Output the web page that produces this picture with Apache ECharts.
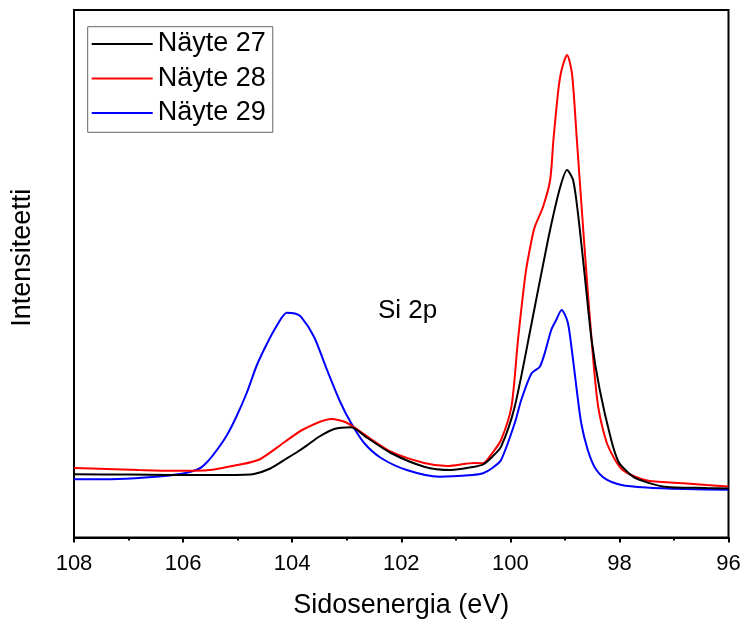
<!DOCTYPE html>
<html>
<head>
<meta charset="utf-8">
<script src="https://cdn.jsdelivr.net/npm/echarts@6/dist/echarts.min.js"></script>
<style>
html,body{margin:0;padding:0;background:#fff;}
#chart{width:743px;height:620px;}
</style>
</head>
<body>
<div id="chart"></div>
<script>
// Binding energy (eV) and intensity (arbitrary units) for each sample
const seriesNames = ["Näyte 27", "Näyte 28", "Näyte 29"];
const xTicks = [108, 106, 104, 102, 100, 98, 96];

const energy27 = [108, 107, 106.2, 105.4, 104.9, 104.7, 104.4, 104.1, 103.88, 103.72, 103.5, 103.23, 102.92, 102.62, 102.19, 101.58, 101.09, 100.66, 100.5, 100.33, 100.17, 99.92, 99.61, 99.31, 99.1, 98.96, 98.85, 98.76, 98.64, 98.51, 98.36, 98.15, 98.02, 97.9, 97.71, 97.21, 96.4, 96];
const intensity27 = [63.2, 63, 62.5, 62.5, 62.8, 63.5, 69, 79, 86.5, 92.5, 101, 108.5, 110.2, 99.5, 84.5, 70.8, 67.5, 70.8, 73, 80.8, 90.8, 130.8, 214.2, 297.5, 347.5, 367.5, 357.5, 324.2, 264.2, 197.5, 147.5, 97.5, 76, 68, 59.5, 51.1, 49.5, 49];

const energy28 = [108, 107.4, 106.8, 106.2, 105.6, 105.0, 104.6, 104.15, 103.8, 103.29, 102.99, 102.62, 102.19, 101.58, 101.16, 100.66, 100.5, 100.33, 100.17, 99.98, 99.86, 99.72, 99.61, 99.55, 99.4, 99.27, 99.21, 99.12, 99.06, 98.96, 98.87, 98.78, 98.65, 98.51, 98.39, 98.22, 97.95, 97.51, 96.89, 96.4, 96];
const intensity28 = [69.5, 68.5, 67.5, 66.8, 67, 72.5, 78, 95, 108, 118.5, 114.5, 100.8, 85.8, 74.5, 71.5, 74.5, 74.2, 84.5, 97.5, 130.8, 197.5, 264.2, 297.5, 310.8, 330.8, 357.5, 397.5, 447.5, 467.5, 482.5, 464.2, 397.5, 297.5, 197.5, 131, 93, 68, 57.2, 54.5, 52.5, 51.1];

const energy29 = [108, 107.2, 106.5, 106.0, 105.7, 105.55, 105.38, 105.2, 105.03, 104.83, 104.65, 104.46, 104.28, 104.1, 103.95, 103.84, 103.6, 103.36, 103.11, 102.92, 102.68, 102.37, 101.9, 101.3, 100.7, 100.5, 100.33, 100.17, 99.92, 99.8, 99.61, 99.46, 99.37, 99.25, 99.16, 99.06, 98.95, 98.88, 98.79, 98.7, 98.58, 98.45, 98.27, 97.96, 97.51, 96.8, 96];
const intensity29 = [58.2, 58.5, 60.8, 64, 69, 76, 87.5, 102, 120, 145, 172, 194, 212, 224.8, 224, 220.8, 200.8, 167.5, 134.5, 114.5, 94.5, 79.5, 67.5, 60.8, 62.5, 64.2, 69.5, 77.5, 114.2, 137.5, 164.2, 170.8, 184.2, 207.5, 217.5, 227.5, 215.8, 190.8, 150.8, 114.2, 87.5, 70, 59.2, 52.5, 50, 48.5, 47.7];

const energies = [energy27, energy28, energy29];
const intensities = [intensity27, intensity28, intensity29];
const colors = ["#000000", "#ff0000", "#0000ff"];

const FONT = "Liberation Sans, Arial, sans-serif";

function pairs(xs, ys) { return xs.map((x, i) => [x, ys[i]]); }

const chart = echarts.init(document.getElementById('chart'), null, {renderer: 'canvas'});
chart.setOption({
  animation: false,
  backgroundColor: '#ffffff',
  grid: {
    left: 74, right: 14.5, top: 10, bottom: 82.5,
    show: true, borderColor: '#000', borderWidth: 2,
    outerBoundsMode: 'none'
  },
  legend: {
    orient: 'vertical',
    left: 87.7, top: 26.7,
    padding: [2.3, 7, 4.3, 4],
    itemGap: 4.5,
    itemWidth: 61, itemHeight: 2,
    icon: 'rect',
    borderColor: '#666', borderWidth: 1,
    backgroundColor: '#fff',
    textStyle: {fontFamily: FONT, fontSize: 27, color: '#000', lineHeight: 30},
    data: seriesNames
  },
  xAxis: {
    type: 'value', min: 96, max: 108, interval: 2, inverse: true,
    name: 'Sidosenergia (eV)', nameLocation: 'middle', nameGap: 55,
    nameTextStyle: {fontFamily: FONT, fontSize: 27, color: '#000'},
    axisLine: {show: true, onZero: false, lineStyle: {color: '#000', width: 2}},
    axisTick: {show: true, inside: false, length: 5, lineStyle: {color: '#000', width: 2}},
    minorTick: {show: true, splitNumber: 2, length: 3, lineStyle: {color: '#000', width: 2}},
    axisLabel: {fontFamily: FONT, fontSize: 22, color: '#000', margin: 15,
      formatter: v => xTicks.includes(v) ? String(v) : ''},
    splitLine: {show: false}
  },
  yAxis: {
    type: 'value', min: 0, max: 527.5,
    name: 'Intensiteetti', nameLocation: 'middle', nameGap: 38,
    nameTextStyle: {fontFamily: FONT, fontSize: 27, color: '#000', padding: [0, 0, 0, 32]},
    axisLine: {show: true, lineStyle: {color: '#000', width: 2}},
    axisTick: {show: false},
    axisLabel: {show: false},
    splitLine: {show: false}
  },
  graphic: [{
    type: 'text', left: 378, top: 298,
    style: {text: 'Si 2p', fontFamily: FONT, fontSize: 26, fill: '#000'}
  }],
  series: seriesNames.map((name, i) => ({
    name: name,
    type: 'line',
    data: pairs(energies[i], intensities[i]),
    showSymbol: false,
    symbol: 'none',
    smooth: 0.25,
    color: colors[i],
    lineStyle: {color: colors[i], width: 2},
    z: 3 - i
  }))
});
</script>
</body>
</html>
